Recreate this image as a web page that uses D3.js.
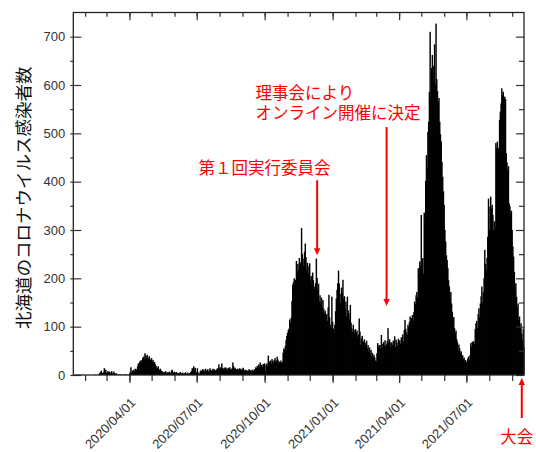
<!DOCTYPE html>
<html>
<head>
<meta charset="utf-8">
<script src="https://cdn.jsdelivr.net/npm/d3@7"></script>
<style>
body { margin: 0; background: #fff; }
</style>
</head>
<body>
<div id="chart"></div>
<script>
// daily new cases in Hokkaido, one array per month
var jan2020 = [0,0,0,0,0,0,0,0,0,0,0,0,1,0,0,0]   // from 1/16
var feb2020 = [0,0,0,0,0,0,0,0,0,0,0,0,0,1,0,0,0,1,2,4,6,9,3,4,6,14,5,11,3]
var mar2020 = [6,8,4,7,5,4,8,2,5,7,3,2,4,1,1,1,0,1,1,1,0,0,1,0,0,2,1,0,0,1,2]
var apr2020 = [6,16,5,9,8,11,7,13,10,12,18,24,22,27,30,26,31,35,38,33,45,40,36,42,37,34,39,32,30,35]
var may2020 = [28,31,25,27,22,19,16,14,18,12,10,13,9,8,7,5,6,4,8,5,3,6,4,7,5,3,9,11,6,4,7]
var jun2020 = [5,3,6,2,4,3,5,6,2,4,5,3,2,4,6,1,3,5,2,4,3,6,8,14,9,18,12,15,7,5]
var jul2020 = [14,3,5,2,8,10,7,12,9,11,6,13,8,10,12,7,9,14,11,8,10,13,9,12,10,8,11,14,9,22,13]
var aug2020 = [16,12,24,14,11,15,13,16,12,14,10,15,13,16,12,11,14,26,18,13,15,12,11,13,10,12,14,11,13,9,12]
var sep2020 = [15,10,9,11,8,10,7,9,12,8,10,7,11,9,8,12,10,16,14,19,17,22,18,26,20,21,17,23,19,24]
var oct2020 = [8,21,24,19,40,25,28,30,22,33,29,26,31,35,27,30,38,32,24,28,26,30,25,27,46,55,52,60,72,81,87]
var nov2020 = [93,96,115,108,119,153,187,192,200,186,197,236,211,230,218,242,229,233,304,250,241,226,255,272,244,216,232,210,225,231]
var dec2020 = [198,205,187,212,196,183,178,190,241,201,176,189,152,165,148,160,141,155,137,128,133,118,126,112,140,166,119,104,98,162,110]
var jan2021 = [96,88,104,132,158,176,190,216,189,168,150,181,170,197,158,163,140,152,121,162,134,128,115,145,108,96,89,104,93,86,95]
var feb2021 = [88,92,79,84,117,90,63,76,81,70,68,74,59,66,71,55,62,48,57,44,52,39,46,35,42,37,30,28]
var mar2021 = [45,66,58,62,62,55,83,64,52,68,61,72,58,63,70,97,66,74,59,68,66,62,71,65,80,58,73,67,60,75,70]
var apr2021 = [72,65,78,61,84,69,93,114,96,88,83,104,99,110,121,106,118,124,112,130,152,146,165,172,160,221,198,235,226,331]
var may2021 = [228,242,210,336,315,402,455,427,503,524,586,710,573,635,662,607,640,684,601,727,612,587,566,573,524,498,483,441,410,380,352]
var jun2021 = [300,276,248,238,221,196,183,160,172,148,131,115,120,97,86,92,74,68,52,63,55,45,49,38,41,33,36,28,31,27]
var jul2021 = [26,34,38,30,41,66,59,69,62,70,64,95,107,112,98,126,138,120,148,163,183,150,172,200,259,230,217,242,286,365,300]
var aug2021 = [348,369,345,352,331,300,318,305,480,469,483,466,470,528,545,562,593,579,586,569,576,571,459,440,424,432,355,349,335,340,300]
var sep2021 = [266,245,213,176,190,162,140,148,114,121,98,107,86,73,96,58]

var monthStarts = ["2020-01-16","2020-02-01","2020-03-01","2020-04-01","2020-05-01","2020-06-01",
                   "2020-07-01","2020-08-01","2020-09-01","2020-10-01","2020-11-01","2020-12-01",
                   "2021-01-01","2021-02-01","2021-03-01","2021-04-01","2021-05-01","2021-06-01",
                   "2021-07-01","2021-08-01","2021-09-01"]
var monthValues = [jan2020,feb2020,mar2020,apr2020,may2020,jun2020,jul2020,aug2020,sep2020,oct2020,
                   nov2020,dec2020,jan2021,feb2021,mar2021,apr2021,may2021,jun2021,jul2021,aug2021,sep2021]

var yTicks = [0,100,200,300,400,500,600,700]
var yMinor = [50,150,250,350,450,550,650]

var yTitle = "北海道のコロナウイルス感染者数"
var noteDates = ["2020-12-11", "2021-03-15", "2021-09-14"]
var noteLines = [["第１回実行委員会"], ["理事会により", "オンライン開催に決定"], ["大会"]]

var parse = d3.timeParse("%Y-%m-%d")
var data = []
monthStarts.forEach((s, i) => {
    let start = parse(s)
    monthValues[i].forEach((v, j) => {
        data.push({date: d3.timeDay.offset(start, j), value: v})
    })
})

var W = 536, H = 452
var pL = 73.3, pR = 524, pT = 12.5, pB = 375

var svg = d3.select("#chart").append("svg")
    .attr("width", W).attr("height", H)

var x = d3.scaleTime()
    .domain([parse("2020-01-16"), parse("2021-09-17")])
    .range([pL, pR])
var y = d3.scaleLinear()
    .domain([0, 750])
    .range([pB, pT])

// bars (slightly widened so neighbouring days merge into solid black)
svg.append("g").selectAll("rect")
    .data(data)
    .enter().append("rect")
    .attr("x", d => x(d.date))
    .attr("width", d => x(d3.timeDay.offset(d.date, 1)) - x(d.date) + 0.7)
    .attr("y", d => y(d.value))
    .attr("height", d => y(0) - y(d.value))
    .attr("fill", "#000")

var months = d3.timeMonth.range(parse("2020-02-01"), parse("2021-09-02"))
var quarters = months.filter(d => d.getMonth() % 3 === 0)

function styleAxis(g) {
    g.select(".domain").remove()
    g.selectAll("line").attr("stroke", "#333").attr("stroke-width", 1.2)
    g.attr("font-family", "Liberation Sans, Arial, sans-serif").attr("font-size", 13)
    g.selectAll("text").attr("fill", "#333")
}

// bottom ticks
svg.append("g").attr("transform", `translate(0,${pB})`)
    .call(d3.axisBottom(x).tickValues(months).tickSize(6).tickFormat(""))
    .call(styleAxis)
var xAxisGroup = svg.append("g").attr("transform", `translate(0,${pB})`)
    .call(d3.axisBottom(x).tickValues(quarters).tickSize(8).tickFormat(d3.timeFormat("%Y/%m/%d")))
    .call(styleAxis)
xAxisGroup.selectAll("text")
    .attr("x", 0).attr("y", 0).attr("dy", null)
    .attr("text-anchor", "end")
    .attr("transform", "translate(6.5,28.5) rotate(-45)")

// top ticks (inside)
svg.append("g").attr("transform", `translate(0,${pT})`)
    .call(d3.axisTop(x).tickValues(months).tickSize(-4.3).tickFormat(""))
    .call(styleAxis)
svg.append("g").attr("transform", `translate(0,${pT})`)
    .call(d3.axisTop(x).tickValues(quarters).tickSize(-7.7).tickFormat(""))
    .call(styleAxis)

// left axis
var yAxisGroup = svg.append("g").attr("transform", `translate(${pL},0)`)
    .call(d3.axisLeft(y).tickValues(yTicks).tickSize(-8).tickPadding(8))
    .call(styleAxis)
svg.append("g").attr("transform", `translate(${pL},0)`)
    .call(d3.axisLeft(y).tickValues(yTicks.concat(yMinor)).tickSize(3).tickFormat(""))
    .call(styleAxis)

// right axis
svg.append("g").attr("transform", `translate(${pR},0)`)
    .call(d3.axisRight(y).tickValues(yTicks).tickSize(-8).tickFormat(""))
    .call(styleAxis)
svg.append("g").attr("transform", `translate(${pR},0)`)
    .call(d3.axisRight(y).tickValues(yMinor).tickSize(-5).tickFormat(""))
    .call(styleAxis)

// frame
svg.append("rect")
    .attr("x", pL).attr("y", pT)
    .attr("width", pR - pL).attr("height", pB - pT)
    .attr("fill", "none").attr("stroke", "#222").attr("stroke-width", 1.3)

// y title
svg.append("text")
    .attr("transform", `translate(30,${(pT + pB) / 2 + 4}) rotate(-90)`)
    .attr("text-anchor", "middle")
    .attr("font-family", "Noto Sans CJK JP, sans-serif")
    .attr("font-size", 17.5)
    .attr("fill", "#111")
    .text(yTitle)

// annotations
var red = "#ff0000"
function arrow(date, v0, v1) {
    let ax = x(parse(date))
    let y0 = y(v0), y1 = y(v1)
    let dir = y1 > y0 ? 1 : -1
    svg.append("line")
        .attr("x1", ax).attr("x2", ax)
        .attr("y1", y0).attr("y2", y1 - dir * 5)
        .attr("stroke", red).attr("stroke-width", 2)
    svg.append("path")
        .attr("d", `M${ax},${y1}L${ax - 3.2},${y1 - dir * 7}L${ax + 3.2},${y1 - dir * 7}Z`)
        .attr("fill", red)
    return ax
}
function note(px, py, lines, anchor) {
    lines.forEach((l, i) => {
        svg.append("text")
            .attr("font-family", "Noto Sans CJK JP, sans-serif")
            .attr("font-size", 16.5)
            .attr("fill", red)
            .attr("text-anchor", anchor)
            .attr("x", px).attr("y", py + i * 19.5)
            .text(l)
    })
}

var a1 = arrow(noteDates[0], 403, 248)
note(a1 - 118.5, 173.5, noteLines[0], "start")
var a2 = arrow(noteDates[1], 513, 143)
note(a2 - 131, 99, noteLines[1], "start")
var a3 = arrow(noteDates[2], -89, -6)
note(a3 - 5, 443, noteLines[2], "middle")
</script>
</body>
</html>
